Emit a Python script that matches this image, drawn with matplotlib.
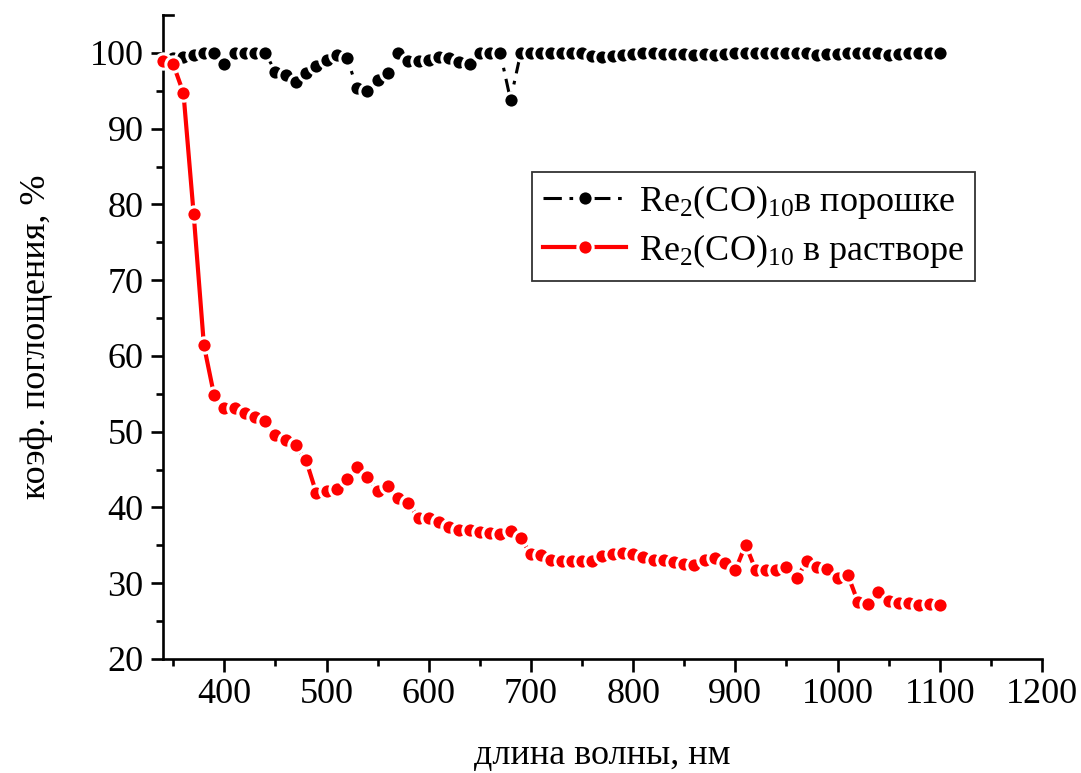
import numpy as np
import matplotlib
matplotlib.use("Agg")
import matplotlib.pyplot as plt
from matplotlib.lines import Line2D
from matplotlib.ticker import MultipleLocator, FixedLocator

plt.rcParams['font.family'] = ['Liberation Serif', 'DejaVu Serif']
plt.rcParams['mathtext.fontset'] = 'custom'
plt.rcParams['mathtext.rm'] = 'Liberation Serif'
plt.rcParams['mathtext.it'] = 'Liberation Serif:italic'

# Powder sample (350-1100 nm)
wl_powder = list(range(350, 1101, 10))
abs_powder = [
    99.3, 99.5, 99.7, 100.0, 100.0, 98.5, 100.0, 100.0, 100.0, 100.0,   # 350-440
    97.5, 97.1, 96.2, 97.4, 98.3, 99.1, 99.7, 99.3, 95.3, 95.0,         # 450-540
    96.4, 97.4, 100.0, 98.9, 98.9, 99.1, 99.5, 99.3, 98.8, 98.5,        # 550-640
    100.0, 100.0, 100.0, 93.8, 100.0, 100.0, 100.0, 100.0, 100.0, 100.0,  # 650-740
    100.0, 99.6, 99.5, 99.6, 99.7, 99.9, 100.0, 100.0, 99.9, 99.9,      # 750-840
    99.8, 99.7, 99.8, 99.7, 99.9, 100.0, 100.0, 100.0, 100.0, 100.0,    # 850-940
    100.0, 100.0, 100.0, 99.7, 99.9, 99.9, 100.0, 100.0, 100.0, 100.0,  # 950-1040
    99.7, 99.9, 100.0, 100.0, 100.0, 100.0,                             # 1050-1100
]

# Solution sample (340-1100 nm)
wl_solution = list(range(340, 1101, 10))
abs_solution = [
    98.9, 98.5, 94.7, 78.7, 61.4, 54.8, 53.1, 53.1, 52.5, 52.0,   # 340-430
    51.4, 49.5, 48.9, 48.2, 46.2, 41.9, 42.2, 42.4, 43.7, 45.4,   # 440-530
    44.0, 42.2, 42.8, 41.2, 40.6, 38.6, 38.6, 38.1, 37.4, 37.0,   # 540-630
    37.0, 36.7, 36.6, 36.5, 36.9, 36.0, 33.8, 33.7, 33.1, 32.9,   # 640-730
    32.9, 32.9, 32.9, 33.6, 33.8, 34.0, 33.8, 33.4, 33.0, 33.1,   # 740-830
    32.8, 32.5, 32.4, 33.1, 33.3, 32.7, 31.7, 35.1, 31.7, 31.8,   # 840-930
    31.8, 32.1, 30.7, 32.9, 32.1, 31.9, 30.7, 31.1, 27.5, 27.2,   # 940-1030
    28.9, 27.6, 27.4, 27.4, 27.1, 27.3, 27.1,                     # 1040-1100
]

label_powder = 'Re$_2$(CO)$_{10}$в порошке'
label_solution = 'Re$_2$(CO)$_{10}$ в растворе'

FS = 26

fig = plt.figure(figsize=(10.81, 7.73), dpi=100)
ax = fig.add_axes([0.1508, 0.1475, 0.8131, 0.8331])

ax.plot(wl_powder, abs_powder, color='black', lw=2.2,
        linestyle=(0, (6, 2.5, 1.2, 2.5, 1.2, 2.5)),
        marker='o', ms=11, mfc='black', mec='white', mew=2.2,
        label=label_powder, zorder=3)
ax.plot(wl_solution, abs_solution, color='#ff0000', lw=3,
        marker='o', ms=11, mfc='#ff0000', mec='white', mew=2.2,
        label=label_solution, zorder=4, clip_on=False)

ax.set_xlim(340, 1200)
ax.set_ylim(20, 105)
ax.xaxis.set_major_locator(MultipleLocator(100))
ax.xaxis.set_minor_locator(MultipleLocator(50))
ax.set_yticks(np.arange(20, 101, 10))
ax.yaxis.set_minor_locator(FixedLocator(np.arange(25, 100, 10)))

for side in ('top', 'right'):
    ax.spines[side].set_visible(False)
for side in ('left', 'bottom'):
    ax.spines[side].set_linewidth(1.9)

ax.tick_params(which='major', direction='out', length=9, width=1.9,
               labelsize=FS, pad=5)
ax.tick_params(which='minor', direction='out', length=5, width=1.9)

# end cap at the top of the y axis
ax.add_line(Line2D([0, 0.011], [1, 1], transform=ax.transAxes,
                   color='black', lw=1.9, clip_on=False))

ax.set_xlabel('длина волны, нм', fontsize=FS, labelpad=20)
ax.set_ylabel('коэф. поглощения, %', fontsize=FS, labelpad=26)

leg = ax.legend(loc='upper left', bbox_to_anchor=(0.42, 0.756),
                fontsize=FS, frameon=True, fancybox=False,
                edgecolor='black', handlelength=2.3, handletextpad=0.35,
                borderpad=0.3, labelspacing=0.3, borderaxespad=0)
leg.get_frame().set_linewidth(1.3)

fig.savefig('out.png', dpi=100)
